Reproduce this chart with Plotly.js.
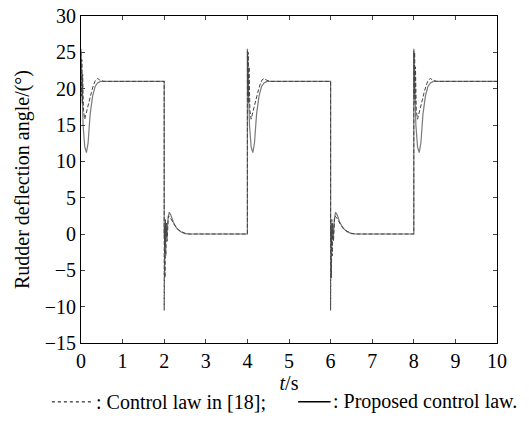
<!DOCTYPE html>
<html>
<head>
<meta charset="utf-8">
<script src="https://cdn.plot.ly/plotly-3.0.1.min.js"></script>
<style>
html,body{margin:0;padding:0;background:#fff;}
#chart{width:529px;height:421px;}
</style>
</head>
<body>
<div id="chart"></div>
<script>
// Proposed control law (solid)
const tProposed = [0, 0.02, 0.05, 0.09, 0.13, 0.17, 0.22, 0.28, 0.34, 0.40, 0.47,
  2.0, 2.0, 2.02, 2.04, 2.06, 2.09, 2.12, 2.16, 2.22, 2.3, 2.4, 2.5, 2.6,
  4.0, 4.0, 4.02, 4.05, 4.09, 4.13, 4.17, 4.22, 4.28, 4.34, 4.40, 4.47,
  6.0, 6.0, 6.02, 6.04, 6.06, 6.09, 6.12, 6.16, 6.22, 6.3, 6.4, 6.5, 6.6,
  8.0, 8.0, 8.02, 8.05, 8.09, 8.13, 8.17, 8.22, 8.28, 8.34, 8.40, 8.47, 10];
const yProposed = [25.5, 21, 15, 12, 11.2, 12.5, 16.5, 19, 20.3, 20.8, 21,
  21, 0, -1.5, 1.5, -0.5, 2, 3, 2.6, 1.6, 0.8, 0.3, 0.05, 0,
  0, 25.5, 21, 15, 12, 11.2, 12.5, 16.5, 19, 20.3, 20.8, 21,
  21, 0, -1.5, 1.5, -0.5, 2, 3, 2.6, 1.6, 0.8, 0.3, 0.05, 0,
  0, 25.5, 21, 15, 12, 11.2, 12.5, 16.5, 19, 20.3, 20.8, 21, 21];
// Control law in [18] (dashed)
const tRef18 = [0, 0.01, 0.02, 0.03, 0.04, 0.06, 0.09, 0.12, 0.16, 0.2, 0.25, 0.3, 0.35, 0.4, 0.45, 0.55,
  2.0, 2.0, 2.01, 2.02, 2.03, 2.04, 2.05, 2.07, 2.1, 2.15, 2.25, 2.35, 2.5, 2.6,
  4.0, 4.0, 4.01, 4.02, 4.03, 4.04, 4.06, 4.09, 4.12, 4.16, 4.2, 4.25, 4.3, 4.35, 4.4, 4.45, 4.55,
  6.0, 6.0, 6.01, 6.02, 6.03, 6.04, 6.05, 6.07, 6.1, 6.15, 6.25, 6.35, 6.5, 6.6,
  8.0, 8.0, 8.01, 8.02, 8.03, 8.04, 8.06, 8.09, 8.12, 8.16, 8.2, 8.25, 8.3, 8.35, 8.4, 8.45, 8.55, 10];
const yRef18 = [25, 19, 24, 18, 22, 17, 15.8, 16.5, 17.5, 18.5, 19.5, 20.5, 21.2, 21.4, 21.2, 21,
  21, -10.5, 1, -6, 2, -3, 1.5, -1, 2.5, 2.2, 1.2, 0.5, 0.1, 0,
  0, 25.2, 19, 25, 18, 23, 17, 15.8, 16.5, 17.5, 18.5, 19.5, 20.5, 21.2, 21.4, 21.2, 21,
  21, -10.5, 1, -6, 2, -3, 1.5, -1, 2.5, 2.2, 1.2, 0.5, 0.1, 0,
  0, 25.2, 19, 25, 18, 23, 17, 15.8, 16.5, 17.5, 18.5, 19.5, 20.5, 21.2, 21.4, 21.2, 21, 21];
const xTicks = [0,1,2,3,4,5,6,7,8,9,10];
const yTicks = [-15,-10,-5,0,5,10,15,20,25,30];
const yTickLabels = ['\u221215','\u221210','\u22125','0','5','10','15','20','25','30'];

const fam = 'Liberation Serif';
const tickFont = {family: fam, size: 20, color: '#000'};
const textFont = {family: fam, size: 20, color: '#000'};
const legFont = {family: fam, size: 20, color: '#000'};
const traces = [
  {x: tProposed, y: yProposed, type: 'scatter', mode: 'lines', line: {color: '#7a7a7a', width: 1.2}, hoverinfo: 'skip'},
  {x: tRef18, y: yRef18, type: 'scatter', mode: 'lines', line: {color: '#444', width: 1, dash: '4px,2px'}, hoverinfo: 'skip'}
];
const layout = {
  width: 529, height: 421,
  margin: {l: 81, r: 32, t: 16, b: 78},
  showlegend: false,
  paper_bgcolor: '#fff', plot_bgcolor: '#fff',
  font: textFont,
  xaxis: {range: [0, 10], tickvals: xTicks, ticks: 'inside', ticklen: 4, mirror: 'ticks', showline: true, linecolor: '#000', linewidth: 1, showgrid: false, zeroline: false,
    title: {text: '<i>t</i>/s', font: textFont, standoff: 0}, tickfont: tickFont},
  yaxis: {range: [-15, 30], tickvals: yTicks, ticktext: yTickLabels, ticks: 'inside', ticklen: 4, mirror: 'ticks', showline: true, linecolor: '#000', linewidth: 1, showgrid: false, zeroline: false,
    title: {text: 'Rudder deflection angle/(\u00b0)', font: textFont, standoff: 9}, tickfont: tickFont},
  shapes: [
    {type: 'line', xref: 'paper', yref: 'paper', x0: -0.07, x1: 0.031, y0: -0.18, y1: -0.18, line: {color: '#000', width: 1, dash: '3px,3px'}},
    {type: 'line', xref: 'paper', yref: 'paper', x0: 0.522, x1: 0.6, y0: -0.18, y1: -0.18, line: {color: '#000', width: 1.5}}
  ],
  annotations: [
    {xref: 'paper', yref: 'paper', x: 0.032, y: -0.18, xanchor: 'left', yanchor: 'middle', showarrow: false, text: ': Control law in [18];', font: legFont},
    {xref: 'paper', yref: 'paper', x: 0.601, y: -0.18, xanchor: 'left', yanchor: 'middle', showarrow: false, text: ': Proposed control law.', font: legFont}
  ]
};
Plotly.newPlot('chart', traces, layout, {staticPlot: true, displayModeBar: false});
</script>
</body>
</html>
